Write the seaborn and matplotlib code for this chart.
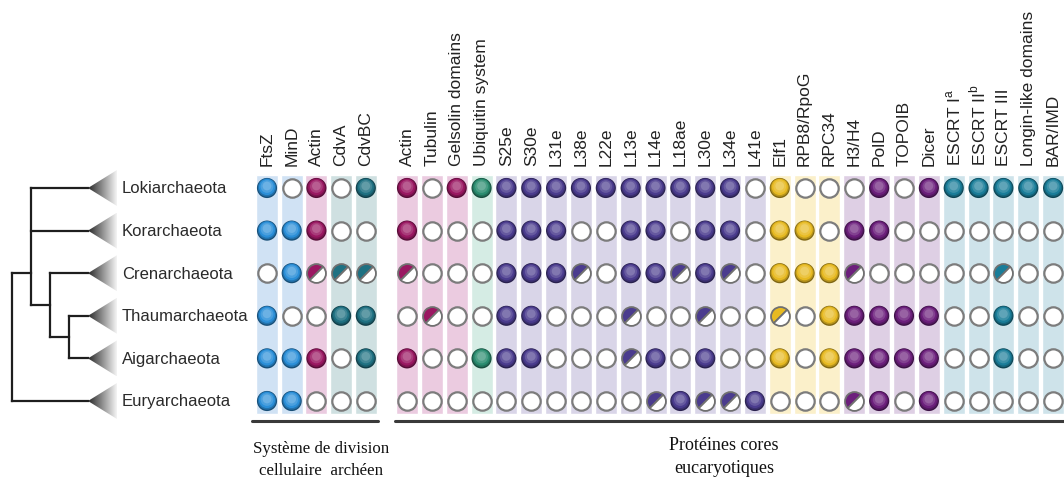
import numpy as np
import pandas as pd
import matplotlib
matplotlib.use('Agg')
import matplotlib.pyplot as plt
from matplotlib.markers import MarkerStyle
from matplotlib.transforms import Affine2D
from matplotlib.patches import Polygon
from matplotlib.colors import LinearSegmentedColormap, to_rgb
import seaborn as sns

sns.set_style('white')
plt.rcParams['font.family'] = ['Liberation Sans', 'DejaVu Sans']
plt.rcParams['mathtext.fontset'] = 'custom'
plt.rcParams['mathtext.rm'] = 'Liberation Sans'

# data
taxa = ['Lokiarchaeota', 'Korarchaeota', 'Crenarchaeota', 'Thaumarchaeota',
        'Aigarchaeota', 'Euryarchaeota']

division_proteins = ['FtsZ', 'MinD', 'Actin', 'CdvA', 'CdvBC']
division_family = ['ftsz', 'ftsz', 'actin', 'cdv', 'cdv']
# 0 = absent, 1 = present, 2 = partial
division_states = [
    [1, 0, 1, 0, 1],
    [1, 1, 1, 0, 0],
    [0, 1, 2, 2, 2],
    [1, 0, 0, 1, 1],
    [1, 1, 1, 0, 1],
    [1, 1, 0, 0, 0],
]

core_proteins = ['Actin', 'Tubulin', 'Gelsolin domains', 'Ubiquitin system',
                 'S25e', 'S30e', 'L31e', 'L38e', 'L22e', 'L13e', 'L14e', 'L18ae',
                 'L30e', 'L34e', 'L41e', 'Elf1', 'RPB8/RpoG', 'RPC34', 'H3/H4',
                 'PolD', 'TOPOIB', 'Dicer', r'ESCRT I$^{\mathrm{a}}$',
                 r'ESCRT II$^{\mathrm{b}}$', 'ESCRT III', 'Longin-like domains',
                 'BAR/IMD']
core_family = ['actin'] * 3 + ['ubi'] + ['ribo'] * 11 + ['rna'] * 3 + ['dna'] * 4 + ['escrt'] * 5
core_states = [
    [1, 0, 1, 1, 1, 1, 1, 1, 1, 1, 1, 1, 1, 1, 0, 1, 0, 0, 0, 1, 0, 1, 1, 1, 1, 1, 1],
    [1, 0, 0, 0, 1, 1, 1, 0, 0, 1, 1, 0, 1, 1, 0, 1, 1, 0, 1, 1, 0, 0, 0, 0, 0, 0, 0],
    [2, 0, 0, 0, 1, 1, 1, 2, 0, 1, 1, 2, 1, 2, 0, 1, 1, 1, 2, 0, 0, 0, 0, 0, 2, 0, 0],
    [0, 2, 0, 0, 1, 1, 0, 0, 0, 2, 0, 0, 2, 0, 0, 2, 0, 1, 1, 1, 1, 1, 0, 0, 1, 0, 0],
    [1, 0, 0, 1, 1, 1, 0, 0, 0, 2, 1, 0, 1, 0, 0, 1, 0, 1, 1, 1, 1, 1, 0, 0, 1, 0, 0],
    [0, 0, 0, 0, 0, 0, 0, 0, 0, 0, 2, 1, 2, 2, 1, 0, 0, 0, 2, 1, 0, 1, 0, 0, 0, 0, 0],
]

family_color = {'ftsz': '#2b8fd8', 'actin': '#9a1862', 'cdv': '#1f7182', 'ubi': '#2b8d70',
                'ribo': '#4b3c8e', 'rna': '#e7ba22', 'dna': '#6c1f7c', 'escrt': '#1a7d99'}
family_stripe = {'ftsz': '#d0e2f4', 'actin': '#ebcbe0', 'cdv': '#cfe0e1', 'ubi': '#d5ece4',
                 'ribo': '#d9d5e8', 'rna': '#fbf0ca', 'dna': '#decfe4', 'escrt': '#cee3ea'}

# tree: node -> (depth, children); leaves at depth 4
tree_nodes = {'n3': (3, ['Thaumarchaeota', 'Aigarchaeota']),
              'n2': (2, ['Crenarchaeota', 'n3']),
              'n1': (1, ['Lokiarchaeota', 'Korarchaeota', 'n2']),
              'root': (0, ['n1', 'Euryarchaeota'])}
node_row_override = {'n1': 2.0}

# layout
Y0, DY = 189, 42.6
X_DIV, DX_DIV = 267, 24.7
X_CORE, DX_CORE = 407, 24.85
TREE_X0, TREE_DX = 12, 19

def mix(c, other, t):
    a, b = np.array(to_rgb(c)), np.array(to_rgb(other))
    return tuple(a * (1 - t) + b * t)

rows, cols = [], []
for proteins, fams, states, x0, dx, grp in [
        (division_proteins, division_family, division_states, X_DIV, DX_DIV, 'div'),
        (core_proteins, core_family, core_states, X_CORE, DX_CORE, 'core')]:
    for j, p in enumerate(proteins):
        cols.append(dict(protein=p, family=fams[j], x=x0 + dx * j, group=grp))
        for i, t in enumerate(taxa):
            rows.append(dict(taxon=t, protein=p, family=fams[j], state=states[i][j],
                             x=x0 + dx * j, y=Y0 + DY * i))
df = pd.DataFrame(rows)
cols = pd.DataFrame(cols)

fig = plt.figure(figsize=(10.64, 4.81), dpi=100)
ax = fig.add_axes([0, 0, 1, 1])

# background stripes
ax.bar(cols['x'], 239, width=22, bottom=176,
       color=[family_stripe[f] for f in cols['family']], zorder=1)

# present circles, shaded in layers (dark rim -> light centre)
pres = df[df['state'] == 1]
shade_layers = [(210, 'black', 0.45), (175, 'black', 0.2), (135, 'white', 0.0),
                (85, 'white', 0.15), (40, 'white', 0.3)]
for k, (size, toward, t) in enumerate(shade_layers):
    pal = {f: mix(c, toward, t) for f, c in family_color.items()}
    sns.scatterplot(data=pres.assign(y=pres['y'] - 0.5 * k), x='x', y='y',
                    hue='family', palette=pal, s=size, linewidth=0,
                    legend=False, ax=ax, zorder=3 + k)

# absent circles
absent = df[df['state'] == 0]
sns.scatterplot(data=absent, x='x', y='y', color='white', edgecolor='#7c7c7c',
                linewidth=1.6, s=175, legend=False, ax=ax, zorder=3)

# partial circles
half = MarkerStyle('o', fillstyle='top', transform=Affine2D().rotate_deg(45))
for _, r in df[df['state'] == 2].iterrows():
    ax.plot(r['x'], r['y'], marker=half, ms=13.6, mfc=family_color[r['family']],
            mfcalt='white', mec='#707070', mew=1.3, ls='none', zorder=4)

# tree
def node_row(n):
    if n in taxa:
        return taxa.index(n)
    if n in node_row_override:
        return node_row_override[n]
    ch = tree_nodes[n][1]
    return (node_row(ch[0]) + node_row(ch[-1])) / 2

def node_x(n):
    return TREE_X0 + TREE_DX * (4 if n in taxa else tree_nodes[n][0])

for n, (d, ch) in tree_nodes.items():
    ys = [Y0 + DY * node_row(c) for c in ch]
    ax.plot([node_x(n)] * 2, [min(ys), max(ys)], color='#1e1e1e', lw=1.6,
            solid_capstyle='projecting', zorder=2)
    for c, yc in zip(ch, ys):
        ax.plot([node_x(n), node_x(c)], [yc, yc], color='#1e1e1e', lw=1.6,
                solid_capstyle='projecting', zorder=2)

# collapsed clade triangles
tri_cmap = LinearSegmentedColormap.from_list('tri', ['#2a2a2a', '#8f8f8f', '#f4f4f4'])
grad = np.linspace(0, 1, 64).reshape(1, -1)
tip = node_x(taxa[0])
for i, t in enumerate(taxa):
    y = Y0 + DY * i
    poly = Polygon([[tip, y], [tip + 29, y - 18], [tip + 29, y + 18]], closed=True,
                   facecolor='none', edgecolor='none', transform=ax.transData)
    ax.add_patch(poly)
    im = ax.imshow(grad, cmap=tri_cmap, extent=[tip, tip + 29, y + 18, y - 18],
                   aspect='auto', zorder=2)
    im.set_clip_path(poly)
    ax.text(tip + 34, y, t, ha='left', va='center', fontsize=12, color='#2a2a2a')

# column labels
for _, c in cols.iterrows():
    ax.text(c['x'], 166, c['protein'], rotation=90, ha='center', va='bottom',
            fontsize=12.5, color='#222222')

# group underlines and captions
div_x = cols[cols['group'] == 'div']['x']
core_x = cols[cols['group'] == 'core']['x']
ax.plot([div_x.min() - 15, div_x.max() + 12], [422, 422], color='#3a3a3a', lw=2.2)
ax.plot([core_x.min() - 12, 1064], [422, 422], color='#3a3a3a', lw=2.2)

serif = ['Liberation Serif', 'DejaVu Serif']
ax.text(321, 449, 'Système de division', ha='center', va='center', fontsize=12.2,
        family=serif, color='#111111')
ax.text(321, 471, 'cellulaire  archéen', ha='center', va='center', fontsize=12.2,
        family=serif, color='#111111')
ax.text(724, 446, 'Protéines cores', ha='center', va='center', fontsize=13,
        family=serif, color='#111111')
ax.text(724, 469, 'eucaryotiques', ha='center', va='center', fontsize=13,
        family=serif, color='#111111')

ax.set_xlim(0, 1064)
ax.set_ylim(481, 0)
ax.axis('off')
fig.savefig('out.png', dpi=100)
